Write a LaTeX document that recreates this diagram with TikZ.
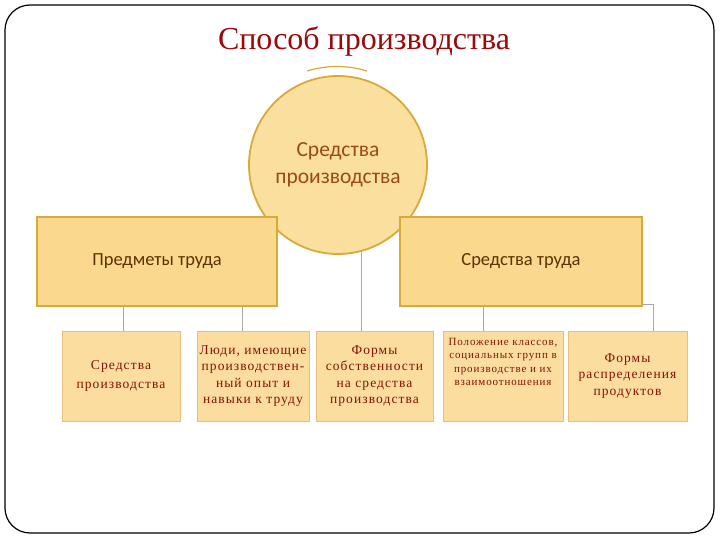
\documentclass[tikz,border=0pt]{standalone}
\usepackage{fontspec}
\setmainfont{Liberation Serif}
\newfontfamily\calfont{Carlito}
\newfontfamily\boxfont[LetterSpace=8]{Liberation Serif}
\definecolor{titlered}{HTML}{990A0A}
\definecolor{goldfill}{HTML}{FAD98E}
\definecolor{goldline}{HTML}{D8AA3A}
\definecolor{peach}{HTML}{FCDDA0}
\definecolor{peachline}{HTML}{E6C07A}
\definecolor{brownA}{HTML}{5A3200}
\definecolor{brownB}{HTML}{9A4A1A}
\definecolor{boxtext}{HTML}{851200}
\definecolor{conn}{HTML}{A8A8A8}
\begin{document}
\begin{tikzpicture}[x=1pt,y=-1pt,
  circ/.style={circle,draw=goldline,line width=1.8pt,fill=goldfill!85!white,minimum size=178pt,inner sep=0pt,
    font=\calfont\fontsize{21.5}{28}\selectfont,text=brownB,align=center},
  mainrect/.style={rectangle,draw=goldline,line width=1.8pt,fill=goldfill,minimum height=89pt,inner sep=0pt,
    font=\calfont\fontsize{18.5}{22}\selectfont,text=brownA},
  lowbox/.style={rectangle,draw=peachline,line width=0.8pt,fill=peach,minimum height=90pt,inner sep=0pt,
    font=\boxfont\fontsize{13.5}{16.5}\selectfont,text=boxtext,align=center},
  smalltext/.style={anchor=north,inner sep=0pt,font=\boxfont\fontsize{11}{13.5}\selectfont,text=boxtext,align=center},
  connector/.style={draw=conn,line width=0.7pt}
]
\fill[white] (0,0) rectangle (720,540);
\useasboundingbox (0,0) rectangle (720,540);
\draw[line width=1.2pt,rounded corners=25pt] (5,5) rectangle (714,533);
\node[text=titlered,font=\fontsize{32}{36}\selectfont] (title) at (364,41) {Способ производства};
\draw[goldline,line width=1.2pt] (307,71) .. controls (327,65) and (347,65) .. (367,71);
\node[circ] (c) at (338,165) {Средства\\[-1pt]производства};
\node[mainrect,minimum width=240pt] (L) at (157,261.5) {\raisebox{-2pt}{Предметы труда}};
\node[mainrect,minimum width=242pt] (R) at (521,261.5) {\raisebox{-2pt}{Средства труда}};
\node[lowbox,minimum width=118pt] (b1) at (121,376) {Средства\\[2pt]производства};
\node[lowbox,minimum width=112pt] (b2) at (253,376) {Люди, имеющие\\производствен-\\ный опыт и\\навыки к труду};
\node[lowbox,minimum width=117pt] (b3) at (374.5,376) {Формы\\собственности\\на средства\\производства};
\node[lowbox,minimum width=120pt] (b4) at (503,376) {};
\node[smalltext] (b4t) at (503,338) {Положение классов,\\социальных групп в\\производстве и их\\взаимоотношения};
\node[lowbox,minimum width=119pt] (b5) at (627.5,376) {Формы\\распределения\\продуктов};
\draw[connector] ([xshift=2pt]b1.north |- L.south) -- ([xshift=2pt]b1.north);
\draw[connector] ([xshift=-11pt]b2.north |- L.south) -- ([xshift=-11pt]b2.north);
\draw[connector] (c.-75) -- (c.-75 |- b3.north);
\draw[connector] ([xshift=-20pt]b4.north |- R.south) -- ([xshift=-20pt]b4.north);
\draw[connector] ([yshift=3pt]R.south east) -| ([xshift=25.5pt]b5.north);
\end{tikzpicture}
\end{document}
